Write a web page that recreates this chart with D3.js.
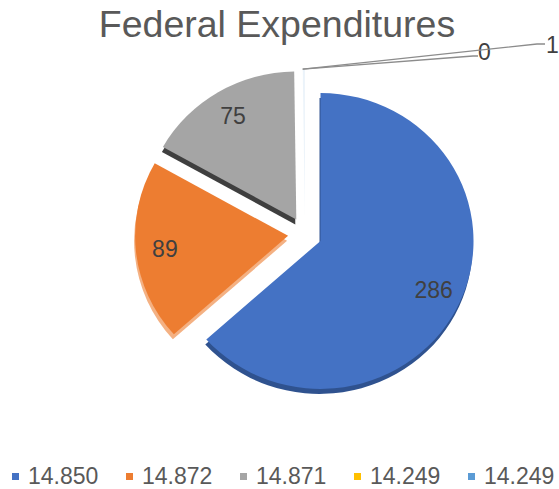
<!DOCTYPE html>
<html>
<head>
<meta charset="utf-8">
<script src="https://cdn.jsdelivr.net/npm/d3@7/dist/d3.min.js"></script>
<style>
  html, body { margin: 0; padding: 0; background: #fff; overflow: hidden; }
  svg { display: block; font-family: "Liberation Sans", Arial, sans-serif; }
</style>
</head>
<body>
<svg id="chart" width="559" height="489"></svg>
<script>
// ---- data ----
const title = "Federal Expenditures";
const categories = ["14.850", "14.872", "14.871", "14.249", "14.249"];
const values = [286, 89, 75, 0, 1];
const colors = ["#4472C4", "#ED7D31", "#A5A5A5", "#FFC000", "#5B9BD5"];
const sideColors = ["#2F528F", "#F4B183", "#3F3F3F", "#BF9000", "#41719C"];

// ---- layout ----
const W = 559, H = 489;
const cx = 305, cy = 234;     // pie centre
const R = 153, sy = 0.967;    // radius & vertical squash (slight tilt)
const explode = 17;
const depth = 5;

const svg = d3.select("#chart");

const pie = d3.pie().sort(null).value(d => d)(values);
const arc = d3.arc().innerRadius(0).outerRadius(R);

const slices = pie.map((p, i) => {
  const mid = (p.startAngle + p.endAngle) / 2;
  const dx = Math.sin(mid), dy = -Math.cos(mid);
  return {p, i, mid, dx, dy, vx: cx + explode * dx, vy: cy + explode * dy};
});

// side (thickness) layer
svg.append("g").selectAll("path")
  .data(slices.filter(s => values[s.i] > 5))
  .join("path")
  .attr("transform", s => `translate(${s.vx - 1},${s.vy + depth}) scale(1,${sy})`)
  .attr("d", s => arc(s.p))
  .attr("fill", s => sideColors[s.i]);

// top faces
svg.append("g").selectAll("path")
  .data(slices.filter(s => s.p.endAngle > s.p.startAngle))
  .join("path")
  .attr("transform", s => `translate(${s.vx},${s.vy}) scale(1,${sy})`)
  .attr("d", s => arc(s.p))
  .attr("fill", s => colors[s.i])
  .attr("fill-opacity", s => values[s.i] < 5 ? 0.12 : 1);

// data labels inside big slices
const labelFrac = 0.81;
svg.append("g").selectAll("text")
  .data(slices.filter(s => values[s.i] > 5))
  .join("text")
  .attr("x", s => s.vx + labelFrac * R * s.dx)
  .attr("y", s => s.vy + labelFrac * R * s.dy * sy)
  .attr("dy", "0.35em")
  .attr("text-anchor", "middle")
  .attr("font-size", 23)
  .attr("fill", "#404040")
  .text(s => values[s.i]);

// leader-line labels for tiny slices
const leaderLabel = {3: {ex: 473, ey: 56, hx: 478, tx: 478, ty: 60},
                     4: {ex: 537, ey: 44, hx: 545, tx: 546, ty: 53}};
const tiny = slices.filter(s => values[s.i] <= 5);
const lg = svg.append("g");
tiny.forEach(s => {
  const L = leaderLabel[s.i];
  const ox = s.vx + R * Math.sin(s.p.startAngle);
  const oy = s.vy - R * Math.cos(s.p.startAngle) * sy;
  lg.append("polyline")
    .attr("points", `${ox},${oy} ${L.ex},${L.ey} ${L.hx},${L.ey}`)
    .attr("fill", "none")
    .attr("stroke", "#8C8C8C")
    .attr("stroke-width", 1.3);
  lg.append("text")
    .attr("x", L.tx).attr("y", L.ty)
    .attr("font-size", 23)
    .attr("fill", "#404040")
    .text(values[s.i]);
});

// title
svg.append("text")
  .attr("x", 277).attr("y", 37)
  .attr("text-anchor", "middle")
  .attr("font-size", 37.5)
  .attr("fill", "#595959")
  .text(title);

// legend
const legX = d3.scalePoint().domain(d3.range(categories.length)).range([12, 468]);
const leg = svg.append("g");
categories.forEach((c, i) => {
  leg.append("rect")
    .attr("x", legX(i)).attr("y", 473)
    .attr("width", 7).attr("height", 7)
    .attr("fill", colors[i]);
  leg.append("text")
    .attr("x", legX(i) + 16).attr("y", 484)
    .attr("font-size", 23)
    .attr("fill", "#595959")
    .text(c);
});
</script>
</body>
</html>
